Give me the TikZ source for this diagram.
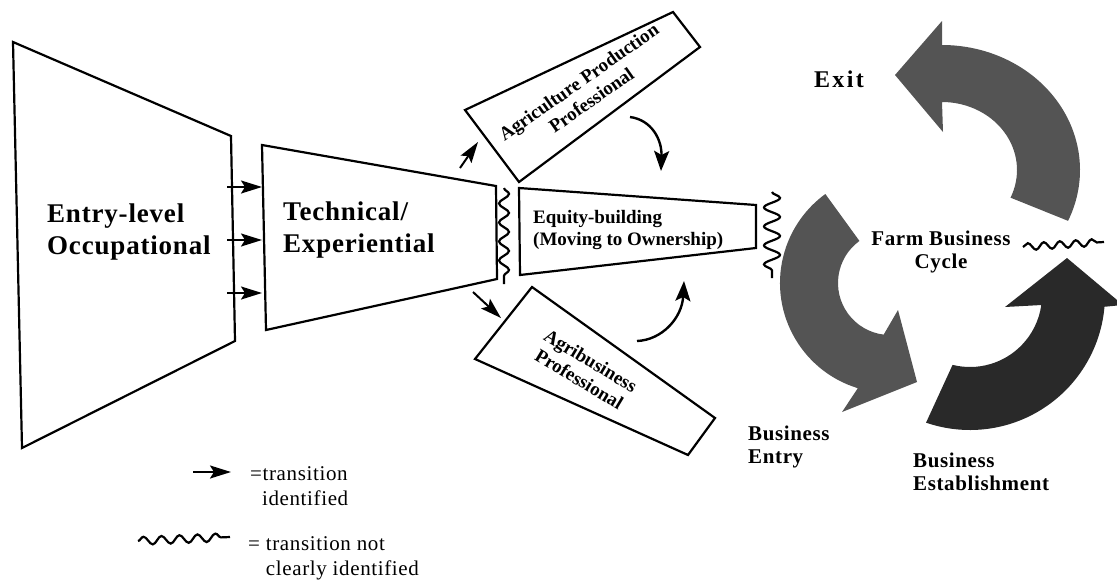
\documentclass[tikz,border=0pt]{standalone}
\usepackage{fontspec}
\setmainfont{Liberation Serif}
\newfontfamily\spacedfont[LetterSpace=3]{Liberation Serif}
\newfontfamily\widefont[LetterSpace=10]{Liberation Serif}
\usetikzlibrary{arrows.meta,decorations.pathmorphing}

\definecolor{cyclegray}{gray}{0.33}
\definecolor{cycledark}{gray}{0.16}

\begin{document}
\begin{tikzpicture}[x=1pt,y=-1pt]
\tikzset{
  stage/.style={draw, line width=2.2pt, line join=miter},
  bigtext/.style={font=\spacedfont\fontsize{27}{32}\selectfont\bfseries, align=left, anchor=west, inner sep=0pt},
  midtext/.style={font=\fontsize{19}{22}\selectfont\bfseries, align=center, inner sep=0pt},
  cycletext/.style={font=\spacedfont\fontsize{21}{23}\selectfont\bfseries, align=left, inner sep=0pt},
  keytext/.style={font=\spacedfont\fontsize{21}{25}\selectfont, align=left, anchor=west, inner sep=0pt},
  trans/.style={line width=2pt, -{Stealth[length=21pt,width=13pt,inset=4pt]}},
  turn/.style={line width=2.4pt, -{Stealth[length=20pt,width=15pt,inset=4pt]}},
  wavy/.style={line width=2.2pt, decorate, decoration={snake,#1}},
}
\useasboundingbox (0,0) rectangle (1117,579);

% career stages
\draw[stage] (13,42) -- (231,136) -- (235,341) -- (22,448) -- cycle;
\draw[stage] (262,145) -- (496,186) -- (497,279) -- (266,330) -- cycle;
\draw[stage] (519,188) -- (756,205) -- (756,248) -- (520,275) -- cycle;
\draw[stage] (465,110) -- (673,12) -- (700,47) -- (519,182) -- cycle;
\draw[stage] (475,359) -- (532,287) -- (715,418) -- (688,455) -- cycle;

\node[bigtext] (occ) at (47,232) {Entry-level\\Occupational};
\node[bigtext] (tech) at (283,230) {Technical/\\Experiential};
\node[midtext, align=left, anchor=west] (equity) at (533,230) {Equity-building\\(Moving to Ownership)};
\node[midtext, rotate=35] (prod) at (585,91) {Agriculture Production\\Professional};
\node[midtext, rotate=-31] (agbiz) at (585,370) {Agribusiness\\Professional};

% transitions
\foreach \i/\y in {1/187,2/240,3/293} {
  \coordinate (occ-\i) at (227,\y);
  \coordinate (tech-\i) at (262,\y);
  \draw[trans] (occ-\i) -- (tech-\i);
}
\coordinate (tech-up) at (460,168);
\coordinate (prod-in) at (478,142);
\coordinate (tech-down) at (473,292);
\coordinate (agbiz-in) at (501,318);
\draw[trans] (tech-up) -- (prod-in);
\draw[trans] (tech-down) -- (agbiz-in);

\coordinate (prod-out) at (630,117);
\coordinate (equity-top) at (661,171);
\coordinate (agbiz-out) at (637,341);
\coordinate (equity-bot) at (684,281);
\draw[turn] (prod-out) .. controls (652,120) and (662,140) .. (equity-top);
\draw[turn] (agbiz-out) .. controls (662,340) and (682,318) .. (equity-bot);

\coordinate (tech-end) at (504,188);
\coordinate (equity-start) at (504,284);
\draw[wavy={amplitude=5pt,segment length=19pt}] (tech-end) -- (equity-start);
\coordinate (equity-end) at (772,192);
\coordinate (entry-start) at (772,278);
\draw[wavy={amplitude=8pt,segment length=19pt}] (equity-end) -- (entry-start);
\coordinate (cycle-out) at (1023,247);
\coordinate (cycle-far) at (1104,242);
\draw[wavy={amplitude=3.5pt,segment length=16pt}] (cycle-out) -- (cycle-far);

% farm business cycle
\begin{scope}[shift={(942,170)}]
\fill[cyclegray] (0,-149) -- (-47,-95) -- (1,-38) -- (-90:75 and 68)
  arc[start angle=-90, end angle=24, x radius=75, y radius=68]
  -- (24:138 and 125)
  arc[start angle=24, end angle=-90, x radius=138, y radius=125] -- cycle;
\end{scope}
\begin{scope}[shift={(890,283)}]
\fill[cyclegray] (234:110) -- (234:52)
  arc[start angle=234, end angle=97, radius=52]
  -- (8,27) -- (27,99) -- (-48,129) -- (107:110)
  arc[start angle=107, end angle=234, radius=110] -- cycle;
\end{scope}
\begin{scope}[shift={(970,295)}]
\fill[cycledark] (109:135) -- (104:72)
  arc[start angle=104, end angle=8, radius=72]
  -- (35,12) -- (97,-37) -- (153,10) -- (5:135)
  arc[start angle=5, end angle=109, radius=135] -- cycle;
\end{scope}

\node[cycletext, font=\widefont\fontsize{24}{26}\selectfont\bfseries] (exit) at (839,79) {Exit};
\node[cycletext, align=center] (cycle) at (941,252) {Farm Business\\Cycle};
\node[cycletext, anchor=west] (entry) at (748,447) {Business\\Entry};
\node[cycletext, anchor=west] (estab) at (913,472) {Business\\Establishment};

% key
\coordinate (key-a) at (193,472);
\coordinate (key-b) at (231,472);
\draw[trans] (key-a) -- (key-b);
\node[keytext] (key-known) at (250,486) {=transition\\\phantom{=}identified};
\coordinate (key-c) at (138,541);
\coordinate (key-d) at (230,537);
\draw[wavy={amplitude=4pt,segment length=18pt}] (key-c) -- (key-d);
\node[keytext] (key-unknown) at (248,558) {= transition not\\\phantom{=} clearly identified};
\end{tikzpicture}
\end{document}
